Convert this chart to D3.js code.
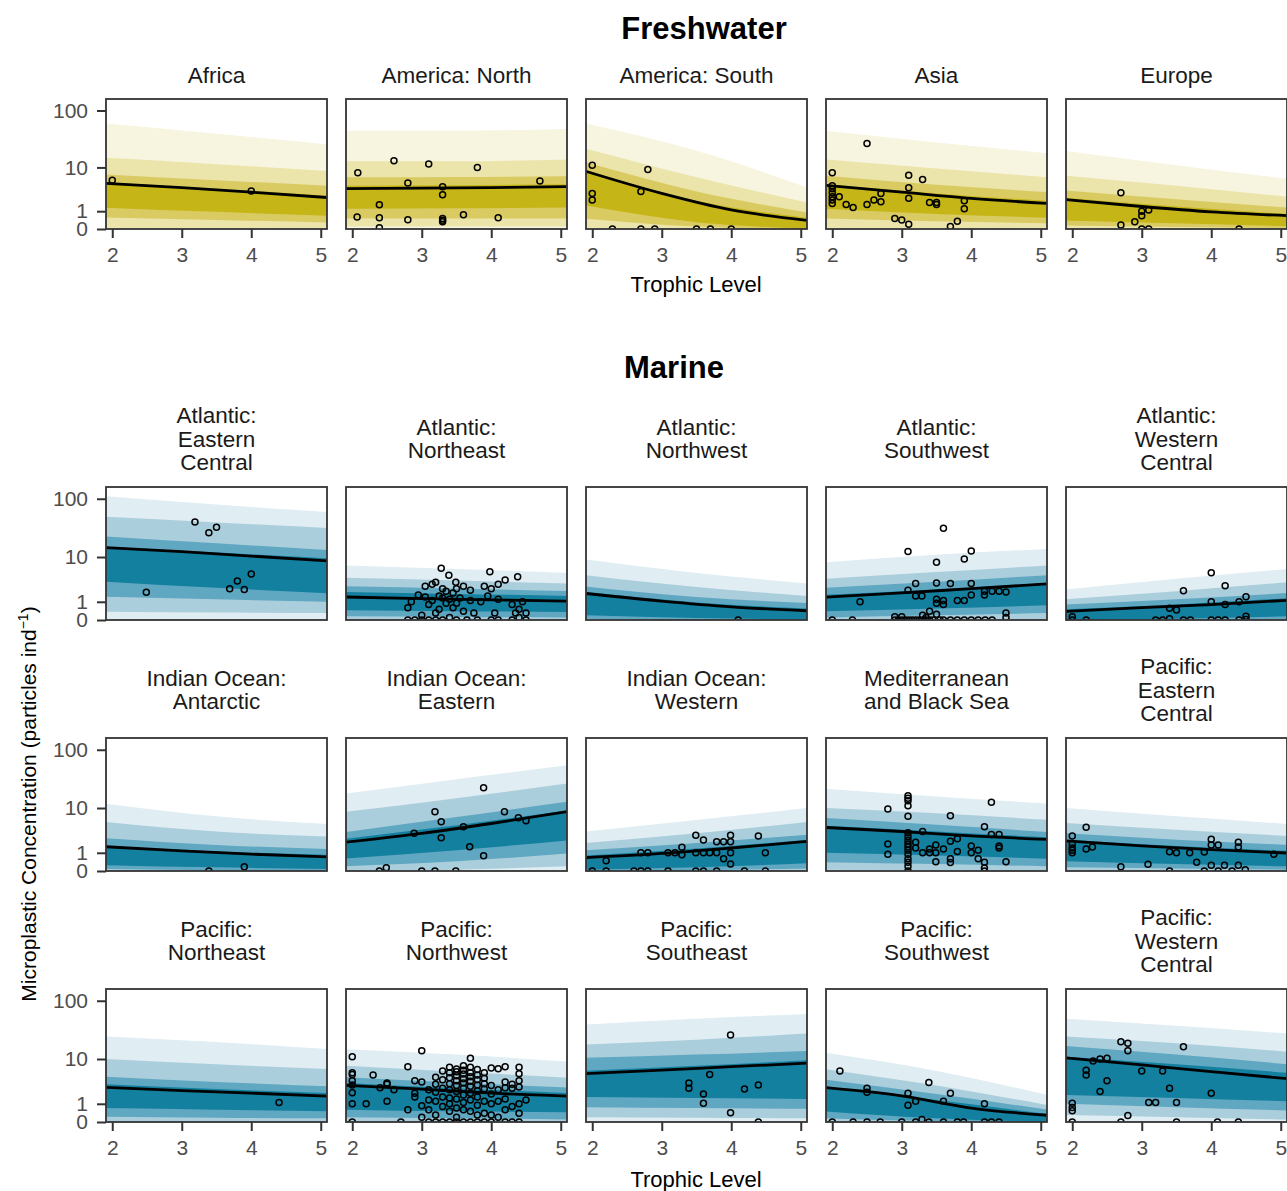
<!doctype html>
<html>
<head>
<meta charset="utf-8">
<title>Microplastic concentration by trophic level</title>
<script src="https://d3js.org/d3.v7.min.js"></script>
<style>
body { margin: 0; background: #fff; }
text { font-family: "Liberation Sans", Arial, sans-serif; }
</style>
</head>
<body>
<script>
// ---- data ----
// fits are drawn across the whole panel, so the end points sit at the panel edges
var lineTrophic = [1.9, 3, 4, 5.1];
var bandTrophic = [1.9, 3.5, 5.1];
var xTicks = [2, 3, 4, 5];
var yTicks = [0, 1, 10, 100];

var freshRegions = ["Africa", "America: North", "America: South", "Asia", "Europe"];
var marineRegions = [
  "Atlantic:\nEastern\nCentral", "Atlantic:\nNortheast", "Atlantic:\nNorthwest", "Atlantic:\nSouthwest", "Atlantic:\nWestern\nCentral",
  "Indian Ocean:\nAntarctic", "Indian Ocean:\nEastern", "Indian Ocean:\nWestern", "Mediterranean\nand Black Sea", "Pacific:\nEastern\nCentral",
  "Pacific:\nNortheast", "Pacific:\nNorthwest", "Pacific:\nSoutheast", "Pacific:\nSouthwest", "Pacific:\nWestern\nCentral"
];

// fitted mean at lineTrophic (freshwater 5 panels, then marine 15)
var meanFit = [
  [4.9, 4.0, 3.2, 2.4], [3.8, 3.9, 4.0, 4.2], [8.5, 3.0, 1.1, 0.4], [4.5, 3.2, 2.3, 1.7], [2.15, 1.4, 0.95, 0.68],
  [14.8, 12.5, 10.4, 8.5], [1.4, 1.25, 1.15, 1.05], [1.75, 1.05, 0.65, 0.42], [1.38, 1.8, 2.3, 2.95], [0.39, 0.6, 0.8, 1.12],
  [1.52, 1.15, 0.9, 0.71], [2.0, 3.2, 5.1, 8.6], [0.66, 0.95, 1.4, 2.1], [4.25, 3.5, 2.8, 2.33], [2.15, 1.6, 1.25, 0.98],
  [2.75, 2.3, 2.0, 1.68], [3.05, 2.5, 2.0, 1.68], [5.3, 6.2, 7.2, 8.4], [2.7, 1.7, 0.7, 0.29], [10.5, 7.8, 5.8, 4.2]
];

// predictive intervals at bandTrophic
var ci50Lo = [
  [1.3, 0.95, 0.68], [1.2, 1.25, 1.3], [1.5, 0.3, 0.02], [1.2, 0.8, 0.55], [0.4, 0.25, 0.12],
  [3.3, 2.4, 1.77], [0.45, 0.4, 0.35], [0.2, 0.08, 0.02], [0.4, 0.55, 0.75], [0, 0.05, 0.15],
  [0.25, 0.15, 0.08], [0.6, 1.2, 2.2], [0.05, 0.15, 0.35], [1.0, 0.8, 0.6], [0.45, 0.3, 0.2],
  [0.7, 0.6, 0.5], [0.6, 0.5, 0.45], [1.6, 1.5, 1.4], [0.5, 0.15, 0], [1.8, 1.5, 1.2]
];
var ci50Hi = [
  [5.2, 3.8, 2.65], [4.4, 4.5, 4.7], [9, 2.0, 0.55], [4.8, 3.0, 2.0], [2.4, 1.4, 0.8],
  [15.3, 12, 9.5], [1.9, 1.7, 1.5], [1.9, 0.95, 0.55], [1.6, 2.2, 3.1], [0.5, 0.8, 1.3],
  [1.6, 1.1, 0.85], [2.4, 4.7, 9.0], [0.8, 1.35, 2.3], [4.6, 3.5, 2.6], [2.3, 1.6, 1.15],
  [3.2, 2.5, 2.0], [3.4, 2.6, 2.0], [6.0, 7.5, 9.5], [2.8, 1.3, 0.35], [11, 8, 5.5]
];
var ci80Lo = [
  [0.57, 0.42, 0.29], [0.5, 0.5, 0.5], [0.5, 0.1, 0], [0.5, 0.35, 0.25], [0.15, 0.08, 0.03],
  [1.43, 1.2, 1.0], [0.15, 0.12, 0.1], [0.05, 0, 0], [0.1, 0.2, 0.3], [0, 0, 0.03],
  [0.08, 0.03, 0], [0.2, 0.45, 0.95], [0, 0.03, 0.1], [0.4, 0.3, 0.2], [0.15, 0.1, 0.05],
  [0.22, 0.18, 0.15], [0.2, 0.15, 0.1], [0.75, 0.7, 0.65], [0.15, 0.03, 0], [1.0, 0.75, 0.55]
];
var ci80Hi = [
  [7.4, 5.7, 4.4], [6.5, 6.6, 6.8], [12.5, 3.3, 0.9], [7, 4.6, 3.2], [3.5, 2.2, 1.3],
  [23, 17.5, 13.4], [2.6, 2.3, 2.0], [2.6, 1.4, 0.9], [2.4, 3.3, 4.5], [0.8, 1.2, 1.8],
  [2.5, 1.7, 1.3], [3.4, 6.8, 13], [1.2, 1.9, 3.0], [6.5, 4.8, 3.4], [3.2, 2.3, 1.7],
  [4.6, 3.6, 2.9], [4.5, 3.5, 2.7], [10.5, 12, 14], [4.0, 1.9, 0.6], [17, 12, 8]
];
var ci95Lo = [
  [0.05, 0.02, 0], [0.1, 0.1, 0.1], [0.05, 0, 0], [0.05, 0.02, 0], [0, 0, 0],
  [0.37, 0.33, 0.3], [0, 0, 0], [0, 0, 0], [0, 0, 0], [0, 0, 0],
  [0, 0, 0], [0, 0.05, 0.2], [0, 0, 0], [0.05, 0.02, 0], [0, 0, 0],
  [0, 0, 0], [0, 0, 0], [0.2, 0.18, 0.15], [0, 0, 0], [0.3, 0.2, 0.1]
];
var ci95Hi = [
  [15, 11.5, 8.6], [13, 13, 14], [22, 6.5, 1.8], [14, 9.5, 6.5], [7, 4.4, 2.5],
  [50, 40, 32], [4, 3.5, 3.0], [4.5, 2.5, 1.5], [3.8, 5.2, 7], [1.2, 2, 3.2],
  [5.5, 3.5, 2.7], [8.5, 15, 27], [1.9, 3.2, 5.5], [10, 8, 6], [5.2, 3.8, 2.8],
  [10, 8, 6.5], [7.5, 5.8, 4.4], [18, 22, 28], [6.5, 3.0, 0.9], [25, 19, 13.5]
];
var ci99Hi = [
  [60, 40, 26], [45, 45, 48], [60, 20, 4], [45, 28, 18], [20, 11, 6],
  [110, 80, 60], [7, 6, 5], [9, 5, 3], [8, 11, 14], [2.2, 3.8, 6],
  [12, 7, 5], [18, 32, 55], [3.5, 6, 10], [22, 16, 12], [10, 7, 5],
  [25, 20, 15], [15, 12, 9], [40, 50, 60], [13, 6, 1.8], [50, 38, 28]
];

// observations [trophic level, particles per individual]
var observed = [
  [[2,5.7],[4,3.4]],
  [[2.07,0.6],[2.08,7.9],[2.39,1.57],[2.39,0.55],[2.39,0.05],[2.6,13.2],[2.8,5.0],[2.8,0.43],[3.1,11.6],[3.3,4.2],[3.3,2.8],[3.3,0.5],[3.3,0.33],[3.3,0.4],[3.6,0.75],[3.8,10],[4.1,0.55],[4.7,5.5]],
  [[2,11],[2,3.0],[2,2.1],[2.29,0],[2.7,3.3],[2.8,9.1],[2.7,0],[2.9,0],[3.5,0],[3.7,0],[4,0]],
  [[2,7.9],[2,4.4],[2,3.8],[2,3.1],[2,2.5],[2,2.1],[2,1.7],[2.1,2.5],[2.2,1.6],[2.3,1.3],[2.5,27],[2.5,1.6],[2.6,2.1],[2.7,3.0],[2.7,1.9],[2.9,0.5],[3.0,0.42],[3.1,0.2],[3.1,7.1],[3.1,4.0],[3.1,2.3],[3.3,5.9],[3.4,1.8],[3.5,1.8],[3.5,1.6],[3.7,0.1],[3.8,0.35],[3.9,2.0],[3.9,1.2]],
  [[2.7,3.1],[2.7,0.17],[2.9,0.33],[3.0,0.68],[3.0,1.0],[3.1,1.1],[3.0,0],[3.1,0],[4.4,0]],
  [[2.49,1.87],[3.19,40.7],[3.39,26.7],[3.5,33],[3.69,2.3],[3.8,3.4],[3.9,2.2],[4.0,4.75]],
  [[2.8,0.6],[2.8,0],[2.85,1.0],[2.9,0],[2.95,1.6],[3.0,0.2],[3.0,0],[3.05,1.4],[3.05,2.6],[3.1,0],[3.1,0.8],[3.15,2.9],[3.15,1.1],[3.2,3.2],[3.2,0.3],[3.2,0],[3.25,1.5],[3.25,0.5],[3.28,6.2],[3.3,2.3],[3.3,1.3],[3.3,0],[3.35,0.9],[3.35,2.0],[3.39,4.5],[3.4,1.2],[3.4,0.1],[3.45,0.6],[3.45,1.8],[3.49,3.2],[3.5,2.3],[3.5,0.9],[3.5,0],[3.55,1.3],[3.6,2.6],[3.6,0.4],[3.65,0],[3.7,1.1],[3.7,2.1],[3.75,0.3],[3.8,0],[3.85,1.0],[3.9,2.6],[3.95,1.5],[3.98,5.3],[4.0,0],[4.0,2.3],[4.05,0.3],[4.1,2.9],[4.1,1.2],[4.1,0],[4.2,3.6],[4.3,0],[4.3,0.8],[4.35,0.3],[4.38,4.2],[4.4,0.5],[4.4,0.1],[4.45,1.0],[4.5,0.3],[4.5,0]],
  [[4.1,0]],
  [[2.0,0],[2.29,0],[2.4,1.0],[2.9,0.13],[3.0,0.13],[3.09,12.5],[3.09,2.1],[3.2,3.0],[3.2,1.5],[3.29,1.5],[3.5,8.0],[3.5,3.1],[3.5,1.2],[3.5,0.9],[3.6,31.8],[3.6,1.1],[3.6,0.8],[3.7,3.0],[3.8,1.1],[3.9,9.2],[3.9,1.1],[4.0,12.8],[4.0,3.0],[4.0,1.6],[4.19,2.0],[4.19,1.6],[4.3,2.0],[4.4,2.0],[4.5,1.9],[4.5,0.3],[4.5,0.1],[3.4,0.4],[3.5,0.25],[2.9,0],[2.95,0],[3.0,0],[3.05,0],[3.1,0],[3.15,0],[3.2,0],[3.25,0],[3.3,0],[3.35,0],[3.4,0],[3.45,0],[3.55,0],[3.6,0],[3.7,0],[3.8,0],[3.9,0],[4.0,0],[4.1,0],[4.2,0],[4.3,0],[3.3,0.2],[3.35,0.1]],
  [[2.0,0.13],[2.0,0],[2.2,0],[3.2,0],[3.3,0],[3.4,0.05],[3.4,0.56],[3.5,0.46],[3.6,2.05],[3.6,0],[3.7,0],[4.0,5.05],[4.0,1.0],[4.0,0],[4.1,0],[4.2,0],[4.2,2.7],[4.2,0.8],[4.4,1.0],[4.4,0],[4.5,1.43],[4.5,0.15],[4.5,0.02]],
  [[3.39,0],[3.9,0.18]],
  [[2.39,0],[2.49,0.13],[2.89,3.2],[3.0,0],[3.19,8.5],[3.19,0],[3.28,5.5],[3.28,2.55],[3.49,0],[3.6,4.4],[3.69,1.52],[3.89,22.8],[3.89,0.79],[4.19,8.5],[4.39,6.6],[4.5,5.8]],
  [[2.0,0],[2.2,0.48],[2.2,0],[2.6,0],[2.7,0],[2.8,0],[2.7,1.0],[2.8,1.0],[3.09,1.0],[3.19,1.0],[3.09,0],[3.29,1.46],[3.29,0.85],[3.49,2.9],[3.49,1.0],[3.49,0],[3.6,2.25],[3.6,1.0],[3.6,0],[3.69,1.0],[3.79,2.05],[3.79,1.0],[3.79,0],[3.89,2.05],[3.89,0.6],[3.99,2.9],[3.99,2.05],[3.99,1.0],[3.99,0.3],[4.19,0],[4.39,2.8],[4.49,1.0],[4.49,0]],
  [[2.8,9.6],[2.8,1.8],[2.8,0.9],[3.09,16.6],[3.09,15],[3.09,13.5],[3.09,11],[3.09,7.0],[3.09,3.3],[3.09,2.7],[3.09,2.2],[3.09,1.8],[3.09,1.5],[3.09,1.2],[3.09,0.9],[3.09,0.6],[3.09,0.4],[3.09,0.2],[3.09,0],[3.2,2.0],[3.2,1.4],[3.3,3.5],[3.3,1.0],[3.4,1.0],[3.4,1.3],[3.49,1.7],[3.49,1.0],[3.49,0.42],[3.6,1.3],[3.7,7.2],[3.7,2.1],[3.7,0.6],[3.7,0.38],[3.8,2.4],[3.8,1.1],[4.0,1.6],[4.0,1.0],[4.1,1.2],[4.1,0.6],[4.19,4.4],[4.19,0.4],[4.19,0.12],[4.19,0],[4.29,12.7],[4.29,3.0],[4.4,3.0],[4.4,1.6],[4.4,1.4],[4.5,0.42]],
  [[2.0,2.8],[2.0,1.8],[2.0,1.4],[2.0,1.0],[2.0,1.2],[2.2,4.3],[2.2,1.3],[2.29,1.5],[2.7,0.18],[3.09,0.29],[3.4,1.08],[3.5,1.0],[3.4,0],[3.69,1.0],[3.79,0.4],[3.9,1.07],[3.9,0],[4.0,2.35],[4.0,1.7],[4.0,0.25],[4.1,1.7],[4.1,0],[4.19,0.25],[4.3,0],[4.39,2.0],[4.39,1.5],[4.39,0.25],[4.49,0.05],[4.9,0.9]],
  [[4.4,1.1]],
  [[2,11],[2,5.5],[2,5.1],[2,3.8],[2,3.1],[2,2.05],[2,1.0],[2,0],[2.2,1.0],[2.3,5.0],[2.4,2.7],[2.5,3.4],[2.5,3.2],[2.5,1.2],[2.6,2.4],[2.7,0],[2.8,7.2],[2.8,0.6],[2.9,3.8],[2.9,2.0],[2.9,1.6],[3.0,14],[3.0,3.6],[3.0,0.85],[3.0,0.2],
   [3.1,2.4],[3.1,0.6],[3.1,0],[3.1,1.3],[3.2,4.5],[3.2,3.2],[3.2,2.1],[3.2,1.2],[3.2,0.3],[3.2,0],[3.3,6.0],[3.3,4.0],[3.3,2.6],[3.3,1.6],[3.3,0.8],[3.3,0],
   [3.4,7.0],[3.4,5.5],[3.4,4.4],[3.4,3.3],[3.4,2.4],[3.4,1.5],[3.4,1.0],[3.4,0.5],[3.4,0],[3.5,6.5],[3.5,5.8],[3.5,4.8],[3.5,3.8],[3.5,3.0],[3.5,2.2],[3.5,1.4],[3.5,0.7],[3.5,0.2],[3.5,0],
   [3.6,7.5],[3.6,6.2],[3.6,5.2],[3.6,4.2],[3.6,3.4],[3.6,2.6],[3.6,1.8],[3.6,1.1],[3.6,0.6],[3.6,0],[3.7,10.3],[3.7,7.0],[3.7,5.6],[3.7,4.6],[3.7,3.7],[3.7,2.9],[3.7,2.0],[3.7,1.3],[3.7,0.5],[3.7,0],
   [3.8,6.4],[3.8,5.0],[3.8,4.0],[3.8,3.1],[3.8,2.3],[3.8,1.6],[3.8,0.9],[3.8,0.3],[3.8,0],[3.9,5.5],[3.9,4.3],[3.9,3.3],[3.9,2.5],[3.9,1.2],[3.9,0.4],[3.9,0],
   [4.0,6.8],[4.0,3.0],[4.0,1.9],[4.0,1.0],[4.0,0.3],[4.0,0],[4.1,6.6],[4.1,2.4],[4.1,1.2],[4.1,0.2],[4.2,7.2],[4.2,3.6],[4.2,2.7],[4.2,1.4],[4.2,0.6],[4.2,0],
   [4.3,3.2],[4.3,2.6],[4.3,0.8],[4.3,0],[4.4,7.0],[4.4,5.3],[4.4,3.8],[4.4,2.8],[4.4,1.0],[4.4,0.4],[4.4,0],[4.5,1.3]],
  [[3.39,3.4],[3.39,2.6],[3.6,1.9],[3.6,1.04],[3.69,5.1],[3.99,26.4],[3.99,0.42],[4.19,2.5],[4.39,3.1],[4.39,0]],
  [[2.0,0],[2.11,6.0],[2.3,0],[2.5,2.6],[2.5,2.1],[2.5,0],[2.69,0],[3.0,0],[3.09,2.0],[3.09,0.9],[3.2,1.2],[3.2,0],[3.29,0.1],[3.39,0],[3.39,3.5],[3.6,1.2],[3.6,0],[3.7,2.0],[3.8,0],[3.89,0],[4.19,1.0],[4.19,0],[4.29,0],[4.4,0]],
  [[2.0,1.04],[2.0,0.73],[2.0,0.54],[2.0,0],[2.2,6.2],[2.2,5.0],[2.3,9.2],[2.4,10],[2.5,10.3],[2.4,2.2],[2.5,3.8],[2.7,20.2],[2.8,19],[2.8,14],[2.7,0],[2.8,0.28],[3.0,5.95],[3.1,1.1],[3.2,1.1],[3.3,6.0],[3.4,2.6],[3.5,1.1],[3.5,0],[3.6,16.6],[4.0,2.0],[4.09,0],[4.39,0]]
];

// ---- layout ----
var vizWidth = 1287, vizHeight = 1191,
    colLeft = [106, 346, 586, 826, 1066],
    panelWidth = 221,
    freshTop = 99, freshHeight = 130,
    marineTops = [487, 738, 989], marineHeight = 133;

var freshColors = ["#f7f4df", "#ebe4ab", "#d9cb62", "#c5b516"];
var marineColors = ["#e0edf2", "#abcedc", "#60a7c2", "#13809f"];

var viz = d3.select("body").append("svg")
    .attr("width", vizWidth)
    .attr("height", vizHeight);

viz.append("rect").attr("width", vizWidth).attr("height", vizHeight).attr("fill", "#fff");

function drawPanel(idx, label, left, top, h, colors, showX, showY, oneLine) {
  var x = d3.scaleLinear().domain([1.91, 5.09]).range([0, panelWidth]);
  var y = d3.scaleSymlog().constant(1).domain([0, 157]).range([h, 0]);

  var g = viz.append("g").attr("transform", "translate(" + left + "," + top + ")");
  var clipId = "clip" + idx;
  g.append("clipPath").attr("id", clipId)
    .append("rect").attr("width", panelWidth).attr("height", h);

  var inner = g.append("g").attr("clip-path", "url(#" + clipId + ")");

  var levels = [
    {lo: bandTrophic.map(function() { return 0; }), hi: ci99Hi[idx]},
    {lo: ci95Lo[idx], hi: ci95Hi[idx]},
    {lo: ci80Lo[idx], hi: ci80Hi[idx]},
    {lo: ci50Lo[idx], hi: ci50Hi[idx]}
  ];
  var area = d3.area()
      .x(function(d) { return x(d.t); })
      .y0(function(d) { return y(d.lo); })
      .y1(function(d) { return y(d.hi); })
      .curve(d3.curveMonotoneX);

  levels.forEach(function(lv, k) {
    var pts = bandTrophic.map(function(t, i) { return {t: t, lo: lv.lo[i], hi: lv.hi[i]}; });
    inner.append("path").attr("d", area(pts)).attr("fill", colors[k]);
  });

  var line = d3.line()
      .x(function(d, i) { return x(lineTrophic[i]); })
      .y(function(d) { return y(d); })
      .curve(d3.curveMonotoneX);
  inner.append("path").attr("d", line(meanFit[idx]))
    .attr("fill", "none").attr("stroke", "#000").attr("stroke-width", 2.8);

  inner.selectAll("circle").data(observed[idx]).enter().append("circle")
    .attr("cx", function(d) { return x(d[0]); })
    .attr("cy", function(d) { return y(d[1]); })
    .attr("r", 3)
    .attr("fill", "none")
    .attr("stroke", "#000")
    .attr("stroke-width", 1.5);

  g.append("rect").attr("width", panelWidth).attr("height", h)
    .attr("fill", "none").attr("stroke", "#333").attr("stroke-width", 1.8);

  // strip label
  var lines = label.split("\n");
  var strip = g.append("text").attr("text-anchor", "middle")
    .attr("font-size", 22.5).attr("fill", "#1a1a1a");
  lines.forEach(function(s, i) {
    var by = oneLine ? -16 : -40.5 + (i - (lines.length - 1) / 2) * 23.5;
    strip.append("tspan").attr("x", panelWidth / 2).attr("y", by).text(s);
  });

  if (showY) {
    var ya = g.append("g").call(d3.axisLeft(y).tickValues(yTicks).tickFormat(d3.format("d"))
      .tickSize(9).tickPadding(9));
    styleAxis(ya);
  }
  if (showX) {
    var xa = g.append("g").attr("transform", "translate(0," + h + ")")
      .call(d3.axisBottom(x).tickValues(xTicks).tickFormat(d3.format("d")).tickSize(9).tickPadding(9));
    styleAxis(xa);
  }
}

function styleAxis(a) {
  a.select(".domain").remove();
  a.selectAll(".tick line").attr("stroke", "#333").attr("stroke-width", 2);
  a.selectAll(".tick text").attr("fill", "#4d4d4d").attr("font-size", 21)
    .attr("font-family", "Liberation Sans, Arial, sans-serif");
}

freshRegions.forEach(function(name, i) {
  drawPanel(i, name, colLeft[i], freshTop, freshHeight, freshColors, true, i === 0, true);
});
marineRegions.forEach(function(name, j) {
  var row = Math.floor(j / 5), col = j % 5;
  drawPanel(5 + j, name, colLeft[col], marineTops[row], marineHeight, marineColors, row === 2, col === 0, false);
});

// titles and axis labels
viz.append("text").attr("x", 704).attr("y", 39).attr("text-anchor", "middle")
  .attr("font-size", 31).attr("font-weight", "bold").attr("fill", "#000").text("Freshwater");
viz.append("text").attr("x", 674).attr("y", 378).attr("text-anchor", "middle")
  .attr("font-size", 31).attr("font-weight", "bold").attr("fill", "#000").text("Marine");

viz.append("text").attr("x", 696).attr("y", 292).attr("text-anchor", "middle")
  .attr("font-size", 22).attr("fill", "#000").text("Trophic Level");
viz.append("text").attr("x", 696).attr("y", 1187).attr("text-anchor", "middle")
  .attr("font-size", 22).attr("fill", "#000").text("Trophic Level");

var ylab = viz.append("text")
  .attr("transform", "translate(36,804) rotate(-90)")
  .attr("text-anchor", "middle").attr("font-size", 21).attr("fill", "#000");
ylab.append("tspan").text("Microplastic Concentration (particles ind");
ylab.append("tspan").attr("font-size", 14).attr("dy", -8).text("\u22121");
ylab.append("tspan").attr("dy", 8).text(")");
</script>
</body>
</html>
